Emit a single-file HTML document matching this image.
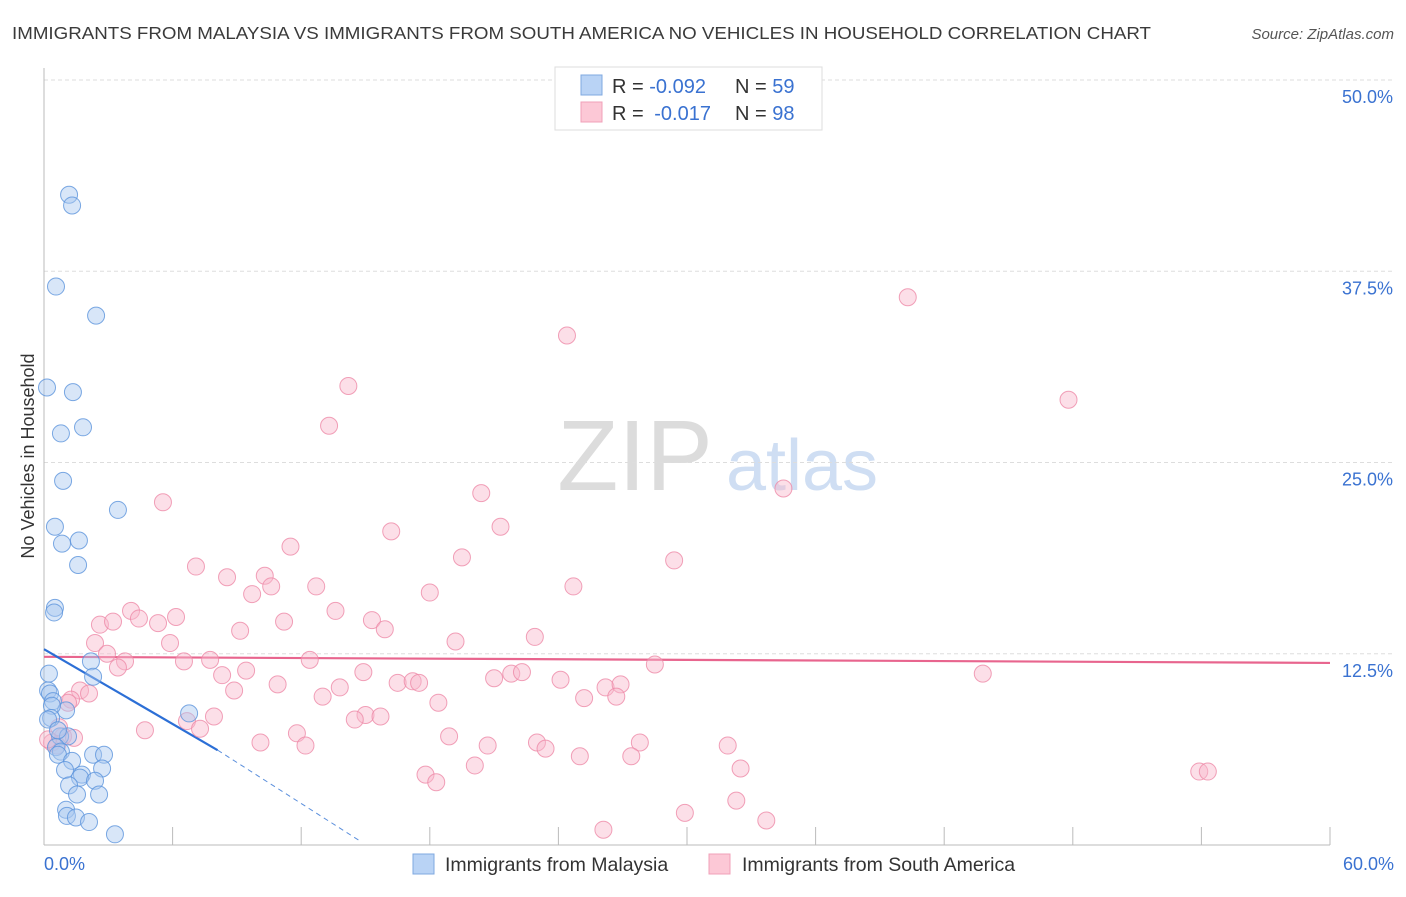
<!DOCTYPE html>
<html><head><meta charset="utf-8">
<style>
body{margin:0;background:#fff;font-family:"Liberation Sans",sans-serif;}
svg text{font-family:"Liberation Sans",sans-serif;}
</style></head>
<body>
<svg id="chart" width="1406" height="892" viewBox="0 0 1406 892" xmlns="http://www.w3.org/2000/svg">
<text x="12" y="39" font-size="17.5" fill="#3a3a3a" textLength="1139" lengthAdjust="spacingAndGlyphs">IMMIGRANTS FROM MALAYSIA VS IMMIGRANTS FROM SOUTH AMERICA NO VEHICLES IN HOUSEHOLD CORRELATION CHART</text>
<text x="1394" y="39" font-size="15" fill="#555" font-style="italic" text-anchor="end">Source: ZipAtlas.com</text>
<text transform="translate(34,456) rotate(-90)" font-size="18" fill="#333" text-anchor="middle">No Vehicles in Household</text>
<g>
<text x="635" y="490" font-size="100" fill="#dcdcdc" font-family="Liberation Serif" text-anchor="middle">ZIP</text>
<text x="802" y="490" font-size="72" fill="#cfdef3" text-anchor="middle">atlas</text>
</g>
<g id="grid"></g>
<g id="axes"></g>
<g id="lines"></g>
<g id="points"></g>
<g>
<rect x="555" y="67" width="267" height="63" fill="#fff" stroke="#ddd"/>
<rect x="581" y="75" width="21" height="20" fill="#b9d3f5" stroke="#7fa8e0"/>
<rect x="581" y="102" width="21" height="20" fill="#fcc8d6" stroke="#f0a0b8"/>
<text x="612" y="93" font-size="20" fill="#333">R = <tspan fill="#3a72d1">-0.092</tspan><tspan x="735">N = </tspan><tspan fill="#3a72d1">59</tspan></text>
<text x="612" y="120" font-size="20" fill="#333">R = <tspan fill="#3a72d1" dx="5">-0.017</tspan><tspan x="735">N = </tspan><tspan fill="#3a72d1">98</tspan></text>
</g>
<g>
<rect x="413" y="854" width="21" height="20" fill="#b9d3f5" stroke="#7fa8e0"/>
<text x="445" y="871" font-size="19.5" fill="#333">Immigrants from Malaysia</text>
<rect x="709" y="854" width="21" height="20" fill="#fcc8d6" stroke="#f0a0b8"/>
<text x="742" y="871" font-size="19.5" fill="#333">Immigrants from South America</text>
</g>
</svg>
<script>
const yTicks=[12.5,25,37.5,50];
const yTickLabels=["12.5%","25.0%","37.5%","50.0%"];
const xTickCount=10;
const xLabels=["0.0%","60.0%"];
const blueX=[1.17,1.31,0.56,2.43,0.14,1.35,0.79,1.82,0.89,3.45,0.51,0.84,1.63,1.59,0.51,0.47,2.19,0.23,2.29,0.19,0.28,0.42,1.03,0.37,0.33,6.77,0.75,1.12,0.56,0.79,0.65,2.29,2.80,1.31,0.98,2.71,1.77,1.68,2.38,1.17,2.57,1.54,1.03,1.07,1.49,2.10,3.31,0.19,0.65];
const blueY=[42.5,41.8,36.5,34.6,29.9,29.6,26.9,27.3,23.8,21.9,20.8,19.7,19.9,18.3,15.5,15.2,12.0,11.2,11.0,10.1,9.9,9.4,8.8,9.1,8.3,8.6,7.1,7.1,6.4,6.1,5.9,5.9,5.9,5.5,4.9,5.0,4.6,4.4,4.2,3.9,3.3,3.3,2.3,1.9,1.8,1.5,0.7,8.2,7.5];
const pinkX=[40.3,24.4,14.2,47.8,13.3,5.55,20.4,34.5,21.3,16.2,11.5,19.5,29.4,7.09,8.54,10.3,24.7,12.7,18.0,9.71,10.6,4.06,4.43,6.16,5.32,2.61,3.22,13.6,15.3,11.2,9.15,15.9,22.9,19.2,2.38,5.88,2.94,3.78,3.45,6.53,7.75,12.4,28.5,43.8,9.43,14.9,8.31,21.0,21.8,22.3,24.1,16.5,17.2,17.5,10.9,13.8,8.87,26.2,26.9,13.0,25.2,26.7,1.68,1.26,1.12,18.4,2.10,15.0,15.7,7.93,14.5,6.67,7.28,4.71,11.8,18.9,10.1,12.2,20.7,23.0,23.4,27.8,31.9,27.4,25.0,20.1,32.5,17.8,18.3,53.9,54.3,32.3,29.9,33.7,26.1,0.37,0.89,0.61,1.40,0.70,0.19];
const pinkY=[35.8,33.3,30.0,29.1,27.4,22.4,23.0,23.3,20.8,20.5,19.5,18.8,18.6,18.2,17.5,17.6,16.9,16.9,16.5,16.4,16.9,15.3,14.8,14.9,14.5,14.4,14.6,15.3,14.7,14.6,14.0,14.1,13.6,13.3,13.2,13.2,12.5,12.0,11.6,12.0,12.1,12.1,11.8,11.2,11.4,11.3,11.1,10.9,11.2,11.3,10.8,10.6,10.7,10.6,10.5,10.3,10.1,10.3,10.5,9.7,9.6,9.7,10.1,9.5,9.3,9.3,9.9,8.5,8.4,8.4,8.2,8.1,7.6,7.5,7.3,7.1,6.7,6.5,6.5,6.7,6.3,6.7,6.5,5.8,5.8,5.2,5.0,4.6,4.1,4.8,4.8,2.9,2.1,1.6,1.0,6.7,7.1,6.5,7.0,7.7,6.9];
const blueTrend=[12.8,6.2,0.3];
const blueTrendX=[0,8.1,14.7];
const pinkTrend=[12.3,11.9];
const pinkTrendX=[0,60];

const NS="http://www.w3.org/2000/svg";
const X0=44,X1=1330,Y0=845,Y50=80;
function sx(v){return X0+(v/60)*(X1-X0);}
function sy(v){return Y0-(v/50)*(Y0-Y50);}
function mk(tag,attrs,parent){const e=document.createElementNS(NS,tag);for(const k in attrs)e.setAttribute(k,attrs[k]);parent.appendChild(e);return e;}
const grid=document.getElementById('grid'),axes=document.getElementById('axes'),lines=document.getElementById('lines'),pts=document.getElementById('points');
yTicks.forEach((t,i)=>{
  const l=mk('line',{x1:X0,x2:1393,y1:sy(t),y2:sy(t),stroke:'#ddd','stroke-dasharray':'4,3'},grid);
  
  
  const tx=mk('text',{x:1393,y:sy(t)+23,'font-size':'18','fill':'#3a72d1','text-anchor':'end'},axes);
  tx.textContent=yTickLabels[i];
  
  
});
const ya=mk('line',{x1:X0,x2:X0,y1:68,y2:Y0,stroke:'#bbb'},axes);


const xa=mk('line',{x1:X0,x2:X1,y1:Y0,y2:Y0,stroke:'#bbb'},axes);


for(let i=0;i<=xTickCount;i++){
  const v=60*i/xTickCount;
  const t=mk('line',{x1:sx(v),x2:sx(v),y1:Y0-18,y2:Y0,stroke:'#bbb'},axes);
  
  
}
[[0,'start',44],[60,'end',1394]].forEach((d,i)=>{
  const t=mk('text',{x:d[2],y:870,'font-size':'18',fill:'#3a72d1','text-anchor':d[1]},axes);
  t.textContent=xLabels[i];
  
  
});
function dot(x,y,c,s,name){
  const c1=mk('circle',{cx:sx(x),cy:sy(y),r:8.5,fill:c,'fill-opacity':0.45,stroke:s,'stroke-opacity':0.8,'stroke-width':1},pts);
  
  
}
pinkX.forEach((x,i)=>dot(x,pinkY[i],'#f9b9cc','#ee8aa8','point-south-america'));
blueX.forEach((x,i)=>dot(x,blueY[i],'#a9c8f0','#5b93dc','point-malaysia'));
const pl=mk('line',{x1:sx(pinkTrendX[0]),y1:sy(pinkTrend[0]),x2:sx(pinkTrendX[1]),y2:sy(pinkTrend[1]),stroke:'#e8658e','stroke-width':2.2},lines);


const bl=mk('line',{x1:sx(blueTrendX[0]),y1:sy(blueTrend[0]),x2:sx(blueTrendX[1]),y2:sy(blueTrend[1]),stroke:'#2c6fd6','stroke-width':2.2},lines);


const bd=mk('line',{x1:sx(blueTrendX[1]),y1:sy(blueTrend[1]),x2:sx(blueTrendX[2]),y2:sy(blueTrend[2]),stroke:'#5b8fdc','stroke-width':1,'stroke-dasharray':'5,4'},lines);


</script>
</body></html>
